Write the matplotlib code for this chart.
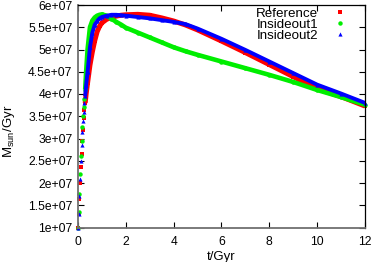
import numpy as np
import matplotlib
matplotlib.use('Agg')
import matplotlib.pyplot as plt

plt.rcParams['font.family'] = ['Liberation Sans', 'DejaVu Sans']
plt.rcParams['mathtext.fontset'] = 'custom'
plt.rcParams['mathtext.rm'] = 'Liberation Sans'

# time in Gyr (same grid for all runs)
t = [0.0, 0.03, 0.06, 0.09, 0.12, 0.15, 0.18, 0.21, 0.24, 0.27, 0.30, 0.34,
     0.4, 0.5, 0.6, 0.7, 0.8, 0.9, 1.0, 1.2, 1.4, 1.6, 1.8, 2.0, 2.5, 3.0,
     3.5, 4.0, 4.5, 5.0, 6.0, 7.0, 8.0, 9.0, 10.0, 11.0, 12.0]

# star formation rate, units of 1e7 Msun/Gyr
reference = [1.0, 1.3, 1.65, 2.0, 2.35, 2.65, 2.95, 3.2, 3.45, 3.65, 3.8, 4.0,
             4.25, 4.65, 4.95, 5.2, 5.4, 5.52, 5.6, 5.68, 5.72, 5.75, 5.77, 5.78, 5.79, 5.77,
             5.71, 5.64, 5.55, 5.44, 5.19, 4.93, 4.66, 4.39, 4.12, 3.94, 3.73]
insideout1 = [1.0, 1.35, 1.75, 2.2, 2.6, 2.95, 3.25, 3.5, 3.7, 3.88, 4.1, 4.5,
              5.0, 5.5, 5.65, 5.72, 5.76, 5.78, 5.79, 5.76, 5.69, 5.62, 5.56, 5.49, 5.38, 5.27,
              5.16, 5.05, 4.96, 4.88, 4.73, 4.58, 4.43, 4.27, 4.09, 3.93, 3.76]
insideout2 = [1.0, 1.3, 1.7, 2.1, 2.5, 2.85, 3.15, 3.4, 3.6, 3.8, 3.95, 4.2,
              4.5, 5.05, 5.38, 5.56, 5.64, 5.7, 5.73, 5.76, 5.78, 5.78, 5.77, 5.76, 5.73, 5.7,
              5.66, 5.62, 5.57, 5.47, 5.24, 4.99, 4.73, 4.47, 4.21, 4.01, 3.80]

labels = ['Reference', 'Insideout1', 'Insideout2']
colors = ['#ff0000', '#00ee00', '#0000ff']
markers = ['s', 'o', '^']

t = np.array(t)
series = [np.array(s) * 1e7 for s in (reference, insideout1, insideout2)]

fig = plt.figure(figsize=(3.74, 2.62), dpi=100)
ax = fig.add_axes([78 / 374, 1 - 227.5 / 262, (365 - 78) / 374, (227.5 - 5) / 262])

n0 = 10  # early points are sparse: markers only
for y, lab, c, m, lw, ms in zip(series, labels, colors, markers,
                                 [3.6, 3.3, 2.8], [3.2, 3.2, 3.0]):
    ax.plot(t[n0:], y[n0:], '-', color=c, lw=lw, solid_capstyle='butt')
    ax.plot(t, y, m, color=c, ms=ms, mew=0, label=lab, clip_on=False)

ax.set_xlim(0, 12)
ax.set_ylim(1e7, 6e7)
ax.set_xticks(np.arange(0, 13, 2))
yt = np.arange(1e7, 6.01e7, 5e6)
ax.set_yticks(yt)
ax.set_yticklabels(['%ge+07' % (v / 1e7) for v in yt])
ax.tick_params(direction='in', length=4, width=0.8, labelsize=8.7,
               top=True, right=True, pad=4)
ax.tick_params(axis='x', pad=6)
for s in ['left', 'bottom']:
    ax.spines[s].set_color('#707070')
    ax.spines[s].set_linewidth(1.3)
for s in ['top', 'right']:
    ax.spines[s].set_linewidth(0.9)

ax.set_xlabel('t/Gyr', fontsize=9.5, labelpad=2)
fig.text(0.025, 0.5, r'M$_{\rm sun}$/Gyr', rotation=90, fontsize=9.5,
         ha='center', va='center')

ax.legend(loc='upper right', frameon=False, markerfirst=False, fontsize=9.6,
          handlelength=0.8, handletextpad=1.25, labelspacing=-0.1,
          borderaxespad=0.1, bbox_to_anchor=(0.955, 1.02))

fig.savefig('out.png', dpi=100)
